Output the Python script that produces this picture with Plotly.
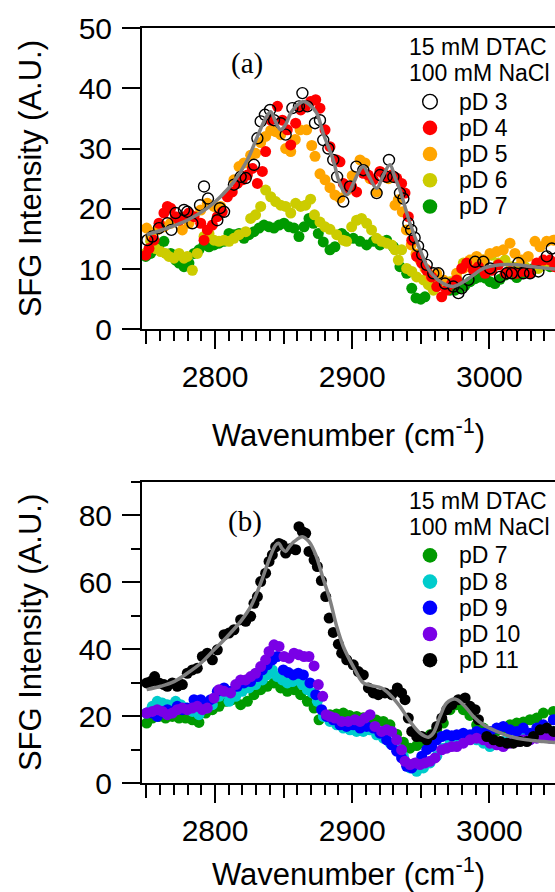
import plotly.graph_objects as go

# ---------------- Panel (a): 15 mM DTAC, 100 mM NaCl, pD 3-7 ----------------
a_pd3_x = [2750.7, 2754.3, 2759.2, 2765.3, 2768.2, 2771.3, 2777.4, 2779.8, 2783.5, 2789.1, 2792.0, 2794.9,
           2801.7, 2803.6, 2806.6, 2813.8, 2818.7, 2822.4, 2828.4, 2830.9, 2833.3, 2836.4, 2840.1, 2843.0,
           2847.9, 2851.5, 2856.4, 2861.2, 2863.7, 2867.3, 2872.9, 2876.5, 2878.9, 2882.6, 2886.2, 2889.0,
           2893.5, 2898.4, 2903.0, 2908.1, 2917.8, 2920.3, 2925.1, 2926.8, 2930.0, 2934.8, 2937.3, 2940.9,
           2943.0, 2945.5, 2948.0, 2951.0, 2954.3, 2959.1, 2962.8, 2967.6, 2973.7, 2977.4, 2979.8, 2984.7,
           2989.6, 2995.6, 3000.5, 3007.8, 3012.6, 3016.3, 3021.1, 3024.8, 3029.6, 3035.7, 3041.8, 3045.4]
a_pd3_y = [14.8, 15.4, 16.8, 17.6, 16.5, 19.3, 19.8, 19.5, 17.6, 20.6, 23.7, 21.7,
           18.1, 20.1, 19.5, 24.0, 25.3, 25.1, 27.3, 31.7, 34.5, 35.6, 36.4, 34.7,
           34.2, 32.3, 36.7, 37.0, 39.2, 37.0, 34.2, 34.7, 31.4, 30.0, 28.1, 25.3,
           21.2, 23.7, 27.0, 26.4, 22.6, 25.6, 25.3, 28.1, 25.3, 22.6, 21.7, 17.6,
           16.5, 15.2, 13.8, 12.4, 10.7, 9.3, 9.3, 7.6, 7.1, 6.0, 6.8, 8.2,
           11.2, 11.2, 10.1, 8.7, 9.3, 9.3, 11.0, 9.3, 9.3, 9.6, 12.1, 13.4]

a_pd4_x = [2749.5, 2751.9, 2755.5, 2759.2, 2762.8, 2765.3, 2767.7, 2771.3, 2773.8, 2777.4, 2781.0, 2784.7,
           2789.6, 2792.0, 2794.4, 2798.1, 2801.7, 2805.3, 2809.0, 2812.6, 2816.3, 2819.9, 2823.6, 2827.2,
           2830.9, 2834.5, 2836.9, 2840.6, 2845.5, 2849.1, 2852.7, 2855.2, 2858.8, 2862.5, 2866.1, 2869.7,
           2873.4, 2876.5, 2880.2, 2883.8, 2888.7, 2891.1, 2893.5, 2895.9, 2899.6, 2903.2, 2908.1, 2911.7,
           2915.4, 2920.2, 2923.9, 2928.7, 2932.4, 2936.0, 2938.5, 2940.9, 2943.4, 2947.0, 2950.6, 2954.3,
           2957.9, 2961.6, 2965.2, 2968.8, 2972.5, 2976.1, 2979.8, 2983.4, 2988.3, 2992.0, 2996.8, 3001.7,
           3006.5, 3011.4, 3015.0, 3019.9, 3024.7, 3029.6, 3034.5, 3039.3, 3044.2, 3047.5]
a_pd4_y = [12.3, 13.4, 14.8, 17.6, 19.3, 20.4, 20.1, 18.7, 18.1, 18.7, 19.3, 18.7,
           17.6, 14.8, 16.5, 17.3, 18.7, 19.5, 22.0, 22.8, 24.2, 24.8, 25.6, 26.7,
           24.2, 26.2, 29.5, 34.7, 37.0, 34.7, 33.1, 30.6, 34.2, 36.4, 37.0, 37.8,
           38.1, 36.7, 33.1, 30.3, 28.1, 27.8, 24.2, 23.4, 23.7, 22.8, 25.9, 25.6,
           24.8, 26.2, 25.3, 25.6, 25.1, 24.2, 22.6, 18.7, 14.8, 12.1, 11.0, 9.8,
           8.7, 7.1, 5.4, 6.5, 7.6, 8.2, 10.1, 11.0, 9.8, 10.4, 9.3, 9.8,
           10.7, 9.3, 9.6, 9.3, 9.6, 9.3, 11.0, 11.5, 11.5, 10.4]

a_pd5_x = [2750.2, 2753.1, 2758.0, 2762.8, 2767.7, 2772.5, 2776.2, 2781.0, 2784.7, 2789.6, 2794.4, 2799.3,
           2804.1, 2809.0, 2813.8, 2817.5, 2821.1, 2826.0, 2829.6, 2833.3, 2836.9, 2840.6, 2844.2, 2847.9,
           2851.5, 2855.2, 2858.5, 2862.0, 2866.8, 2870.5, 2872.9, 2876.5, 2880.2, 2883.8, 2887.4, 2891.0,
           2895.9, 2900.0, 2905.7, 2909.3, 2913.0, 2917.8, 2922.7, 2926.5, 2931.2, 2933.6, 2936.5, 2939.5,
           2943.0, 2946.5, 2949.4, 2953.1, 2956.7, 2961.6, 2966.4, 2971.3, 2976.1, 2981.0, 2985.8, 2990.7,
           2995.5, 3000.4, 3005.3, 3010.1, 3015.0, 3018.6, 3023.5, 3028.3, 3033.2, 3036.9, 3041.7, 3046.6]
a_pd5_y = [16.8, 15.4, 16.5, 17.0, 17.6, 18.1, 16.5, 17.6, 18.7, 19.8, 20.9, 20.4,
           20.4, 22.3, 24.8, 27.0, 27.6, 28.9, 29.2, 31.0, 32.0, 33.0, 32.8, 32.3,
           30.0, 29.5, 31.5, 33.1, 33.1, 30.5, 28.7, 25.8, 24.8, 23.5, 22.3, 21.8,
           23.0, 25.5, 28.1, 27.6, 25.0, 22.8, 25.9, 25.0, 20.6, 21.5, 19.5, 16.5,
           14.0, 12.5, 11.5, 10.1, 8.7, 9.3, 8.2, 7.6, 9.3, 10.1, 11.5, 12.1,
           11.5, 12.6, 12.9, 13.2, 14.3, 12.6, 11.5, 12.1, 14.6, 13.7, 14.6, 14.8]

a_pd6_x = [2749.5, 2753.1, 2756.8, 2760.4, 2764.0, 2766.5, 2770.1, 2773.8, 2777.4, 2779.8, 2783.5, 2787.1,
           2792.0, 2795.6, 2799.3, 2802.9, 2806.6, 2810.2, 2813.8, 2817.5, 2822.4, 2826.0, 2829.6, 2833.3,
           2836.9, 2840.6, 2844.2, 2847.9, 2851.5, 2855.2, 2858.8, 2862.4, 2866.1, 2869.7, 2872.5, 2876.5,
           2880.2, 2883.8, 2888.7, 2893.5, 2895.9, 2899.6, 2903.2, 2906.8, 2910.5, 2914.1, 2917.8, 2921.4,
           2925.1, 2928.7, 2931.2, 2933.6, 2936.0, 2939.7, 2943.4, 2947.0, 2951.9, 2955.5, 2959.2, 2964.0,
           2967.6, 2971.3, 2976.1, 2981.0, 2985.8, 2990.7, 2995.5, 3001.6, 3006.5, 3011.4, 3016.2, 3021.1,
           3025.9, 3030.8, 3035.6, 3040.5, 3046.6]
a_pd6_y = [12.6, 14.6, 13.4, 12.9, 12.6, 12.1, 11.8, 12.6, 11.8, 12.1, 9.8, 12.6,
           15.4, 15.9, 14.8, 14.6, 14.8, 14.6, 15.1, 15.7, 16.2, 18.4, 19.0, 20.4,
           23.1, 22.0, 21.2, 20.6, 20.4, 19.3, 20.9, 20.4, 20.6, 21.6, 19.0, 17.8,
           17.0, 16.6, 15.7, 14.8, 14.6, 17.0, 18.1, 18.4, 17.6, 16.5, 15.1, 14.6,
           14.3, 14.0, 13.2, 11.5, 13.2, 10.1, 9.6, 8.7, 8.2, 7.4, 6.5, 7.9,
           7.6, 7.9, 8.5, 11.0, 10.4, 11.0, 11.5, 12.3, 11.0, 11.5, 10.4, 10.4,
           10.4, 9.8, 10.1, 10.7, 11.0]

a_pd7_x = [2749.5, 2753.1, 2759.2, 2762.8, 2767.7, 2771.3, 2773.8, 2777.4, 2781.0, 2784.7, 2788.3, 2792.0,
           2795.6, 2799.3, 2802.9, 2806.6, 2810.2, 2813.8, 2817.5, 2821.1, 2824.8, 2828.4, 2832.1, 2835.7,
           2839.4, 2843.0, 2846.7, 2850.3, 2854.0, 2857.6, 2861.2, 2864.9, 2868.5, 2871.7, 2875.3, 2878.9,
           2883.8, 2887.4, 2892.3, 2894.7, 2900.8, 2905.7, 2910.5, 2915.4, 2920.2, 2925.1, 2930.0, 2934.8,
           2939.7, 2943.4, 2946.5, 2950.0, 2953.0, 2958.0, 2964.0, 2967.5, 2971.3, 2975.0, 2978.6, 2982.0,
           2985.9, 2989.5, 2993.1, 2997.0, 3000.4, 3004.0, 3007.7, 3011.5, 3015.0, 3019.9, 3023.5, 3027.2,
           3031.0, 3034.5, 3039.0, 3044.2, 3047.0]
a_pd7_y = [12.1, 12.6, 14.0, 14.6, 12.6, 11.5, 11.0, 10.4, 11.0, 12.6, 13.2, 14.0,
           13.7, 14.0, 14.3, 14.6, 15.9, 15.7, 15.9, 15.1, 15.7, 16.2, 16.8, 17.3,
           17.0, 16.8, 17.3, 17.6, 17.0, 16.8, 15.4, 17.0, 18.4, 17.6, 15.9, 14.5,
           13.2, 13.7, 15.9, 15.4, 15.1, 14.6, 14.0, 14.6, 14.0, 14.8, 13.7, 10.4,
           9.3, 6.8, 5.2, 5.0, 5.4, 7.1, 8.0, 7.5, 6.5, 6.5, 6.8, 7.2,
           7.9, 8.4, 8.7, 8.5, 7.9, 7.6, 8.3, 9.0, 9.8, 8.6, 9.2, 9.8,
           10.0, 10.4, 10.6, 10.4, 10.8]

a_fit_x = [2750.2, 2765.3, 2779.8, 2794.4, 2804.0, 2813.8, 2823.6, 2830.9, 2836.9, 2840.6, 2844.0, 2847.9,
           2851.5, 2855.2, 2860.0, 2864.9, 2869.2, 2874.1, 2878.9, 2886.2, 2890.5, 2895.9, 2900.8, 2904.5,
           2908.1, 2912.5, 2917.8, 2922.5, 2927.5, 2931.0, 2934.8, 2942.1, 2949.4, 2956.7, 2966.4, 2973.7,
           2983.5, 2995.6, 3007.7, 3019.9, 3034.5, 3047.8]
a_fit_y = [15.7, 16.8, 18.1, 20.1, 22.0, 24.5, 28.1, 32.0, 35.0, 36.1, 34.5, 33.1,
           34.0, 35.9, 37.2, 37.8, 37.2, 35.9, 32.5, 28.1, 24.5, 22.3, 24.2, 26.0,
           27.0, 25.3, 23.4, 25.5, 27.3, 25.3, 23.1, 17.6, 13.2, 9.6, 7.6, 7.1,
           8.2, 10.1, 10.7, 10.7, 10.3, 10.0]

# ---------------- Panel (b): 15 mM DTAC, 100 mM NaCl, pD 7-11 ----------------
b_pd7_x = [2750.2, 2754.3, 2759.2, 2764.0, 2768.9, 2773.8, 2778.6, 2783.5, 2788.3, 2793.2, 2798.1, 2802.9,
           2807.8, 2812.6, 2818.7, 2823.6, 2828.4, 2833.3, 2838.1, 2843.0, 2847.9, 2852.7, 2857.6, 2862.4,
           2867.3, 2872.2, 2875.8, 2879.0, 2883.8, 2888.5, 2893.5, 2898.0, 2903.3, 2908.0, 2913.0, 2917.5,
           2922.7, 2927.5, 2932.4, 2937.3, 2942.1, 2947.0, 2951.9, 2956.7, 2961.6, 2966.4, 2971.3, 2976.1,
           2981.0, 2985.8, 2990.7, 2995.6, 3000.4, 3005.3, 3010.1, 3015.0, 3019.9, 3024.7, 3029.6, 3034.5,
           3039.3, 3046.6]
b_pd7_y = [17.9, 19.4, 19.9, 19.4, 19.9, 19.4, 19.4, 18.9, 18.1, 20.9, 21.9, 22.9,
           24.4, 24.9, 23.4, 24.4, 26.4, 27.9, 28.9, 29.9, 28.4, 27.4, 27.9, 26.4,
           24.4, 22.4, 18.9, 20.2, 20.4, 20.6, 20.9, 20.2, 19.9, 19.5, 19.4, 18.8,
           18.4, 17.4, 14.6, 12.2, 10.4, 11.2, 12.0, 14.4, 15.9, 17.9, 21.9, 23.4,
           21.9, 20.2, 17.4, 16.4, 15.2, 15.6, 16.4, 17.4, 17.9, 18.2, 18.9, 19.4,
           20.9, 21.4]

b_pd8_x = [2750.2, 2754.3, 2757.9, 2761.6, 2765.3, 2768.9, 2771.3, 2775.0, 2778.6, 2783.5, 2788.3, 2793.2,
           2798.1, 2802.9, 2806.6, 2810.2, 2815.1, 2819.9, 2824.8, 2829.6, 2834.5, 2838.1, 2841.8, 2845.4,
           2849.1, 2852.7, 2856.4, 2860.0, 2863.7, 2867.3, 2870.9, 2874.6, 2879.0, 2883.8, 2888.7, 2893.5,
           2898.4, 2903.2, 2908.1, 2913.0, 2917.8, 2922.7, 2927.6, 2932.4, 2937.3, 2942.1, 2947.0, 2951.9,
           2956.7, 2961.6, 2966.4, 2971.3, 2976.1, 2981.0, 2985.8, 2990.7, 2995.6, 3000.4, 3005.3, 3010.1,
           3015.0, 3019.9, 3024.7, 3029.6, 3034.5, 3039.3, 3046.6]
b_pd8_y = [20.9, 22.9, 24.4, 23.9, 23.4, 22.9, 24.4, 23.4, 22.4, 21.4, 20.4, 22.4,
           23.4, 25.9, 26.9, 24.4, 25.9, 27.4, 28.4, 29.4, 30.8, 32.3, 33.8, 31.8,
           30.8, 29.9, 30.3, 30.8, 29.4, 27.9, 26.9, 24.4, 19.9, 18.4, 17.4, 16.4,
           15.9, 15.4, 15.4, 15.9, 14.4, 13.4, 11.9, 10.4, 8.0, 4.5, 3.5, 4.5,
           6.0, 8.0, 10.4, 11.9, 12.9, 13.4, 13.9, 12.9, 11.9, 10.9, 11.9, 12.4,
           12.9, 12.9, 13.4, 13.9, 14.4, 14.9, 15.4]

b_pd9_x = [2750.2, 2754.3, 2757.9, 2761.6, 2765.3, 2768.9, 2772.5, 2776.2, 2779.8, 2784.7, 2789.6, 2793.2,
           2796.8, 2801.7, 2806.6, 2811.4, 2816.3, 2821.1, 2826.0, 2830.9, 2834.5, 2838.1, 2841.8, 2845.4,
           2849.8, 2853.5, 2857.0, 2860.7, 2864.4, 2869.2, 2873.4, 2877.7, 2881.4, 2886.2, 2891.1, 2895.9,
           2900.8, 2905.7, 2910.5, 2915.4, 2920.2, 2925.1, 2928.8, 2932.4, 2936.0, 2939.7, 2943.4, 2947.0,
           2950.7, 2954.3, 2958.0, 2961.6, 2965.3, 2968.9, 2972.6, 2976.2, 2981.0, 2985.9, 2990.7, 2995.6,
           3000.4, 3005.3, 3010.1, 3015.0, 3019.9, 3024.7, 3029.6, 3034.5, 3039.3, 3046.6]
b_pd9_y = [20.9, 20.9, 19.9, 21.4, 21.9, 21.4, 22.9, 21.9, 22.4, 24.9, 24.9, 23.4,
           24.9, 27.4, 28.4, 27.4, 28.9, 29.9, 30.3, 31.8, 33.8, 35.3, 36.8, 37.8,
           33.8, 33.0, 32.3, 32.8, 32.3, 29.9, 26.4, 21.9, 19.9, 18.9, 17.4, 16.9,
           17.4, 16.4, 16.9, 16.4, 14.9, 12.9, 11.4, 9.5, 7.5, 5.0, 4.5, 6.0,
           8.0, 10.0, 10.9, 12.9, 13.9, 14.4, 14.1, 14.4, 14.9, 14.4, 15.4, 14.9,
           15.4, 16.4, 16.9, 15.9, 15.4, 16.4, 14.9, 16.4, 17.4, 18.9]

b_pd10_x = [2750.2, 2754.3, 2757.9, 2761.6, 2765.3, 2768.9, 2772.5, 2776.2, 2779.8, 2783.5, 2787.1, 2790.8,
            2794.4, 2799.3, 2802.9, 2806.6, 2811.4, 2815.1, 2818.7, 2822.4, 2826.0, 2829.6, 2833.3, 2836.9,
            2839.4, 2843.0, 2846.7, 2850.3, 2854.0, 2857.6, 2861.2, 2864.9, 2868.5, 2872.2, 2875.3, 2878.5,
            2881.0, 2883.8, 2887.4, 2892.3, 2897.1, 2902.0, 2905.7, 2909.3, 2913.0, 2916.6, 2921.4, 2925.1,
            2928.8, 2932.4, 2936.0, 2938.5, 2942.1, 2945.8, 2949.4, 2953.1, 2956.7, 2960.4, 2965.2, 2968.9,
            2972.5, 2976.2, 2981.0, 2985.9, 2990.7, 2995.6, 3000.4, 3005.3, 3010.1, 3015.0, 3019.9, 3024.7,
            3029.6, 3034.5, 3039.3, 3044.2]
b_pd10_y = [20.9, 21.4, 21.9, 21.4, 20.4, 20.9, 21.9, 22.4, 21.9, 22.4, 22.9, 21.9,
            22.4, 25.4, 27.9, 27.4, 26.9, 29.4, 30.8, 30.8, 31.8, 32.8, 34.8, 36.8,
            39.3, 41.3, 40.8, 37.8, 37.3, 38.8, 38.3, 37.8, 37.8, 35.0, 29.4, 25.9,
            20.4, 19.9, 19.4, 18.4, 18.4, 18.9, 18.4, 19.4, 20.4, 16.9, 15.4, 15.9,
            15.4, 12.9, 9.9, 6.5, 5.5, 6.0, 5.5, 6.0, 6.5, 7.5, 9.9, 10.4,
            10.9, 10.9, 11.9, 12.9, 13.4, 12.9, 11.9, 11.4, 10.9, 11.9, 12.4, 12.9,
            12.9, 13.4, 13.9, 13.4]

b_pd11_x = [2750.2, 2753.1, 2756.0, 2759.2, 2762.8, 2765.3, 2768.9, 2772.5, 2776.2, 2779.8, 2783.5, 2787.1,
            2790.8, 2794.4, 2798.1, 2801.7, 2806.6, 2810.2, 2813.8, 2818.7, 2822.4, 2826.0, 2828.4, 2830.9,
            2833.3, 2836.9, 2839.4, 2841.8, 2844.2, 2846.6, 2849.1, 2851.5, 2855.2, 2858.8, 2861.2, 2863.7,
            2866.1, 2868.5, 2872.2, 2874.6, 2877.5, 2880.7, 2883.2, 2886.2, 2889.9, 2892.3, 2896.0, 2900.8,
            2904.5, 2908.1, 2911.8, 2915.4, 2919.0, 2923.9, 2928.8, 2932.9, 2936.0, 2938.5, 2940.9, 2943.4,
            2947.0, 2950.7, 2954.3, 2958.0, 2961.6, 2965.3, 2968.9, 2972.6, 2977.4, 2982.3, 2985.9, 2989.6,
            2992.0, 2998.1, 3003.0, 3007.8, 3012.7, 3017.5, 3022.4, 3027.3, 3032.1, 3037.0, 3041.8, 3046.7]
b_pd11_y = [29.9, 30.3, 31.8, 29.9, 29.4, 28.9, 29.9, 28.9, 29.4, 32.8, 33.8, 34.3,
            37.8, 38.8, 36.8, 39.8, 44.3, 44.8, 45.8, 48.8, 48.3, 49.8, 53.7, 55.7,
            60.2, 62.7, 66.2, 68.2, 70.6, 71.6, 71.1, 68.7, 70.1, 69.7, 76.6, 75.1,
            74.6, 69.2, 66.7, 64.7, 60.5, 55.7, 49.3, 45.0, 41.5, 38.8, 36.8, 35.3,
            33.3, 32.3, 28.4, 26.9, 26.4, 26.9, 26.4, 28.4, 26.9, 24.9, 19.4, 15.4,
            13.9, 13.9, 12.9, 14.4, 16.9, 19.4, 21.9, 23.4, 24.9, 25.4, 22.9, 21.9,
            18.9, 13.9, 12.9, 12.4, 11.9, 11.9, 12.4, 12.4, 13.9, 15.9, 16.4, 15.4]

b_fit_x = [2750.2, 2760.4, 2770.1, 2779.8, 2789.6, 2799.3, 2809.0, 2818.7, 2826.0, 2833.3, 2839.4, 2844.2,
           2846.6, 2849.0, 2851.5, 2854.5, 2857.6, 2863.7, 2868.5, 2873.4, 2878.5, 2883.8, 2888.7, 2893.5,
           2900.8, 2908.1, 2914.1, 2921.4, 2927.5, 2934.8, 2942.1, 2949.4, 2955.5, 2959.1, 2964.0, 2968.8,
           2974.9, 2981.0, 2988.3, 2995.6, 3005.3, 3015.0, 3027.2, 3039.3, 3047.8]
b_fit_y = [27.9, 28.9, 30.3, 32.8, 35.8, 39.8, 43.8, 48.3, 52.7, 59.7, 66.7, 71.1,
           71.6, 70.0, 69.2, 70.8, 72.1, 73.6, 72.1, 68.2, 61.5, 54.7, 46.8, 40.8,
           34.8, 29.9, 29.1, 28.4, 26.4, 22.9, 18.4, 14.9, 13.7, 14.9, 19.9, 23.9,
           25.1, 23.4, 19.9, 17.4, 15.4, 13.9, 12.9, 12.4, 12.1]

legend_title = ["15 mM DTAC", "100 mM NaCl"]
a_names = ["pD 3", "pD 4", "pD 5", "pD 6", "pD 7"]
b_names = ["pD 7", "pD 8", "pD 9", "pD 10", "pD 11"]

C = {"pD 3": "#000000", "pD 4": "#ff0000", "pD 5": "#ffa500", "pD 6": "#cccc00",
     "pD 7": "#009a00", "pD 8": "#00cccc", "pD 9": "#0000ff", "pD 10": "#7a00e6",
     "pD 11": "#000000"}

FONT = "Liberation Sans, Arial, sans-serif"
MS = 11

fig = go.Figure()


def dots(x, y, name, xa, ya, ring=False):
    if ring:
        marker = dict(symbol="circle-open", size=MS, color="black", line=dict(width=1.4, color="black"))
    else:
        marker = dict(symbol="circle", size=MS, color=C[name], line=dict(width=0))
    fig.add_trace(go.Scatter(x=x, y=y, mode="markers", name=name, marker=marker,
                             xaxis=xa, yaxis=ya, showlegend=False))


# panel (a): draw order 7,6,5,4,3
dots(a_pd7_x, a_pd7_y, "pD 7", "x", "y")
dots(a_pd6_x, a_pd6_y, "pD 6", "x", "y")
dots(a_pd5_x, a_pd5_y, "pD 5", "x", "y")
dots(a_pd4_x, a_pd4_y, "pD 4", "x", "y")
dots(a_pd3_x, a_pd3_y, "pD 3", "x", "y", ring=True)
fig.add_trace(go.Scatter(x=a_fit_x, y=a_fit_y, mode="lines", line=dict(color="#808080", width=3.5, shape="spline"),
                         xaxis="x", yaxis="y", showlegend=False, name="fit (a)"))

# panel (b)
dots(b_pd7_x, b_pd7_y, "pD 7", "x2", "y2")
dots(b_pd8_x, b_pd8_y, "pD 8", "x2", "y2")
dots(b_pd9_x, b_pd9_y, "pD 9", "x2", "y2")
dots(b_pd10_x, b_pd10_y, "pD 10", "x2", "y2")
dots(b_pd11_x, b_pd11_y, "pD 11", "x2", "y2")
fig.add_trace(go.Scatter(x=b_fit_x, y=b_fit_y, mode="lines", line=dict(color="#808080", width=3.5, shape="spline"),
                         xaxis="x2", yaxis="y2", showlegend=False, name="fit (b)"))

# empty traces to carry the mid-length (every 50) tick axes
fig.add_trace(go.Scatter(x=[], y=[], xaxis="x3", yaxis="y", showlegend=False, hoverinfo="skip"))
fig.add_trace(go.Scatter(x=[], y=[], xaxis="x4", yaxis="y2", showlegend=False, hoverinfo="skip"))

XR = [2746.8, 3047.8]
top_dom = [0.6009, 1.0]
bot_dom = [0.0, 0.3989]

xcommon = dict(range=XR, showline=True, linewidth=2, linecolor="black", mirror=True,
               ticks="outside", ticklen=18, tickwidth=2, tickcolor="black",
               tick0=2800, dtick=100, showgrid=False, zeroline=False,
               minor=dict(ticks="outside", dtick=10, tick0=2750, ticklen=10, tickwidth=2, tickcolor="black", showgrid=False),
               tickfont=dict(family=FONT, size=30, color="black"), ticklabelstandoff=2)
xmid = dict(range=XR, showline=False, ticks="outside", ticklen=14, tickwidth=2, tickcolor="black",
            tickmode="array", tickvals=[2750, 2850, 2950, 3050], showticklabels=False,
            showgrid=False, zeroline=False)
ycommon = dict(showline=True, linewidth=2, linecolor="black", ticks="outside", ticklen=18, tickwidth=2,
               tickcolor="black", showgrid=False, zeroline=False,
               tickfont=dict(family=FONT, size=30, color="black"), ticklabelstandoff=4)

fig.update_layout(
    width=555, height=892,
    margin=dict(l=142, r=0, t=28, b=109),
    paper_bgcolor="white", plot_bgcolor="white",
    showlegend=False,
    xaxis=dict(xcommon, domain=[0, 1], anchor="y",
               title=dict(text="Wavenumber (cm<sup>-1</sup>)", font=dict(family=FONT, size=31, color="black"), standoff=32)),
    xaxis2=dict(xcommon, domain=[0, 1], anchor="y2",
                title=dict(text="Wavenumber (cm<sup>-1</sup>)", font=dict(family=FONT, size=31, color="black"), standoff=22)),
    xaxis3=dict(xmid, overlaying="x", anchor="y", side="bottom"),
    xaxis4=dict(xmid, overlaying="x2", anchor="y2", side="bottom"),
    yaxis=dict(ycommon, domain=top_dom, anchor="x", range=[0, 50], dtick=10,
               title=dict(text="SFG Intensity (A.U.)", font=dict(family=FONT, size=31, color="black"), standoff=28)),
    yaxis2=dict(ycommon, domain=bot_dom, anchor="x2", range=[0, 90], dtick=20,
                minor=dict(ticks="outside", dtick=10, ticklen=9, tickwidth=2, tickcolor="black", showgrid=False),
                title=dict(text="SFG Intensity (A.U.)", font=dict(family=FONT, size=31, color="black"), standoff=28)),
)

# legends drawn as text + swatches, anchored to each panel's domain
PH = 301.2
TX = 0.6409   # legend title left edge
SX = 0.6973   # swatch centre
LX = 0.762    # entry text left edge
title_rows = [19.2, 45.2]
entry_rows = [73.6 + 26.2 * i for i in range(5)]

annotations = []
shapes = []
for xr, yr, names, label, lab_x, lab_y in [("x domain", "y domain", a_names, "(a)", 0.2535, 0.8808),
                                           ("x2 domain", "y2 domain", b_names, "(b)", 0.2501, 0.8675)]:
    annotations.append(dict(text=label, x=lab_x, y=lab_y, xref=xr, yref=yr, showarrow=False,
                            xanchor="center", yanchor="middle",
                            font=dict(family="Liberation Serif, Times New Roman, serif", size=29, color="black")))
    for t, d in zip(legend_title, title_rows):
        annotations.append(dict(text=t, x=TX, y=1 - d / PH, xref=xr, yref=yr, showarrow=False,
                                xanchor="left", yanchor="middle",
                                font=dict(family=FONT, size=23, color="black")))
    for n, d in zip(names, entry_rows):
        yy = 1 - d / PH
        annotations.append(dict(text=n, x=LX, y=yy, xref=xr, yref=yr, showarrow=False,
                                xanchor="left", yanchor="middle",
                                font=dict(family=FONT, size=23, color="black")))
        ring = (n == "pD 3")
        shapes.append(dict(type="circle", xref=xr, yref=yr, xsizemode="pixel", ysizemode="pixel",
                           xanchor=SX, yanchor=yy, x0=-7.3, x1=7.3, y0=-7.3, y1=7.3,
                           fillcolor="white" if ring else C[n],
                           line=dict(color="black" if ring else C[n], width=1.4 if ring else 0)))

fig.update_layout(annotations=annotations, shapes=shapes)
fig.write_html("out.html", config={"displayModeBar": False},
               post_script="document.body.style.margin='0';document.body.style.overflow='hidden';")
